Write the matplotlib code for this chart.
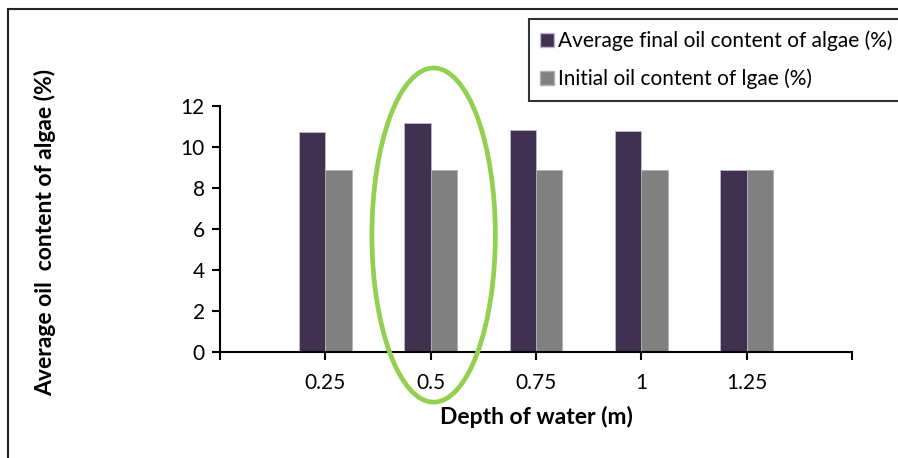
import matplotlib
matplotlib.use("Agg")
import matplotlib.pyplot as plt
from matplotlib.patches import Rectangle, Ellipse, Patch

plt.rcParams['font.family'] = ['Lato', 'DejaVu Sans']

depths = [0.25, 0.5, 0.75, 1.0, 1.25]
tick_labels = ["0.25", "0.5", "0.75", "1", "1.25"]
final_oil = [10.72, 11.14, 10.81, 10.75, 8.88]
initial_oil = [8.88, 8.88, 8.88, 8.88, 8.88]
series_names = ["Average final oil content of algae (%)", "Initial oil content of lgae (%)"]

dark = "#403151"
grey = "#808080"
edge = "#c0b8d0"

fig = plt.figure(figsize=(8.98, 4.58), dpi=100)
ax = fig.add_axes([220/898, 1-351.7/458, (852-220)/898, (351.7-105.7)/458])

w = 0.0625
ax.bar([d - w/2 for d in depths], final_oil, width=w, color=dark, edgecolor=edge, linewidth=0.6)
ax.bar([d + w/2 for d in depths], initial_oil, width=w, color=grey, edgecolor="#b0b0b0", linewidth=0.6)

ax.set_xlim(0, 1.5)
ax.set_ylim(0, 12)
ax.set_xticks([0] + depths + [1.5])
ax.set_xticklabels([""] + tick_labels + [""])
ax.set_yticks(range(0, 13, 2))
for s in ("top", "right"):
    ax.spines[s].set_visible(False)
for s in ("left", "bottom"):
    ax.spines[s].set_linewidth(1.5)
ax.tick_params(axis="both", direction="out", length=6, width=1.5, labelsize=15, pad=5)
ax.tick_params(axis="x", pad=9)

fig.text(536/898, 1-417/458, "Depth of water (m)", fontsize=16.5, fontweight="bold",
         ha="center", va="center")
fig.text(45/898, 1-232/458, "Average oil  content of algae (%)", rotation=90,
         fontsize=16.5, fontweight="bold", ha="center", va="center")

# highlight around the 0.5 m group
ax.add_patch(Ellipse((0.507, 5.69), 0.293, 16.3, fill=False, edgecolor="#92d050",
                     linewidth=3.4, clip_on=False, zorder=5))

handles = [Patch(facecolor=dark, edgecolor=edge), Patch(facecolor=grey, edgecolor="#b0b0b0")]
leg = fig.legend(handles, series_names, loc="upper left",
                 bbox_to_anchor=(529/898, 1-19/458), fontsize=15, frameon=True,
                 fancybox=False, handlelength=0.65, handleheight=0.65, handletextpad=0.2,
                 labelspacing=0.85, borderpad=0.55, borderaxespad=0)
leg.get_frame().set_edgecolor("black")
leg.get_frame().set_linewidth(1.5)

fig.patches.append(Rectangle((8/898, -0.1), 1.2, 1-9/458+0.1, transform=fig.transFigure,
                             fill=False, edgecolor="#222222", linewidth=1.5))

fig.savefig("out.png", dpi=100)
